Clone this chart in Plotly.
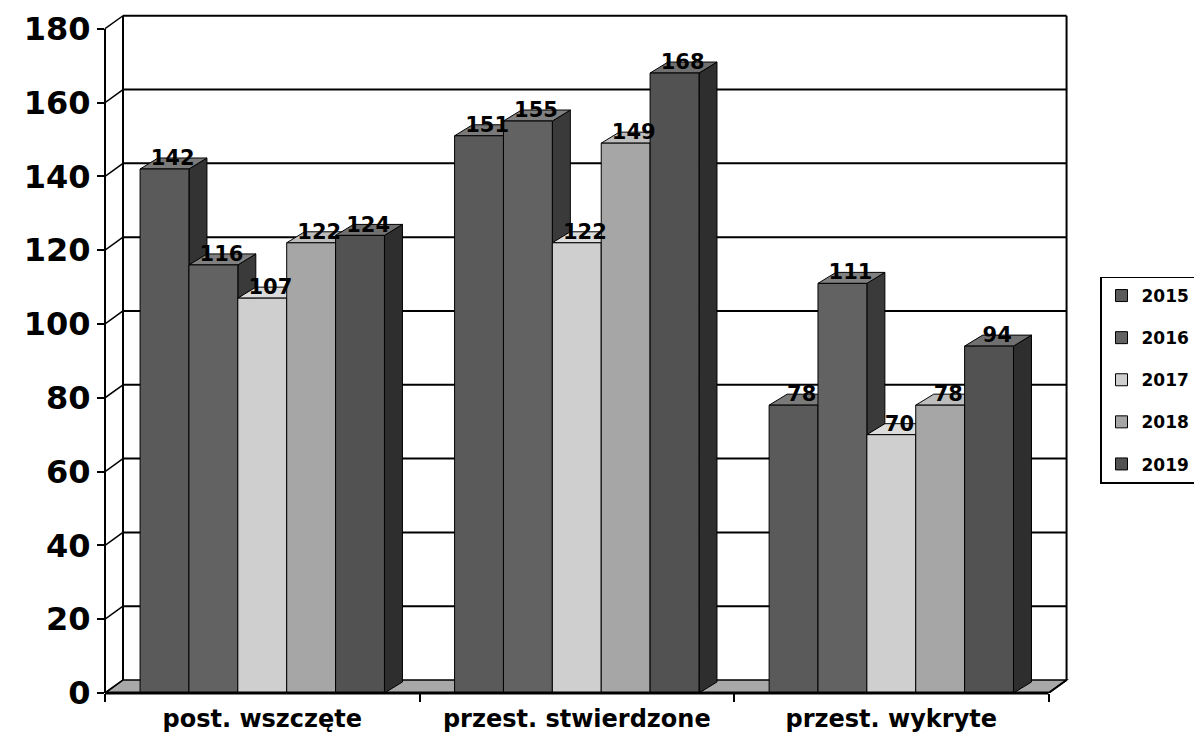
import plotly.graph_objects as go

categories = ["post. wszczęte", "przest. stwierdzone", "przest. wykryte"]
years = ["2015", "2016", "2017", "2018", "2019"]
v2015 = [142, 151, 78]
v2016 = [116, 155, 111]
v2017 = [107, 122, 70]
v2018 = [122, 149, 78]
v2019 = [124, 168, 94]
series = [v2015, v2016, v2017, v2018, v2019]
y_ticks = [0, 20, 40, 60, 80, 100, 120, 140, 160, 180]

front_cols = ["#5a5a5a", "#626262", "#cfcfcf", "#a6a6a6", "#525252"]
side_cols = ["#333333", "#3a3a3a", "#8e8e8e", "#6e6e6e", "#2e2e2e"]
top_cols = ["#7a7a7a", "#808080", "#dcdcdc", "#bdbdbd", "#707070"]

FONT = "DejaVu Sans"
# page body has an 8px margin, so the figure is offset by (8, 8)
OFF = 8
W, H = 1202 - OFF, 743 - OFF
L, R, T, B = 105 - OFF, 133, 14 - OFF, 50
XR = [0, 3.065]
YR = [0, 184]
px_x = (W - L - R) / (XR[1] - XR[0])
px_y = (H - T - B) / (YR[1] - YR[0])

bargap = 0.223
n = len(years)
bw = (1 - bargap) / n
centers = [i + 0.5 for i in range(len(categories))]

# depth (in data units) for walls and bars
dxw, dyw = 18 / px_x, 13 / px_y
dxb, dyb = 18 / px_x, 11 / px_y

fig = go.Figure()
for k, (yr, vals) in enumerate(zip(years, series)):
    fig.add_trace(go.Bar(
        x=centers, y=vals, name=yr, legendgroup=yr,
        marker=dict(color=front_cols[k], line=dict(color="black", width=1)),
        hoverinfo="skip",
    ))

# value labels
for k, vals in enumerate(series):
    xs = [c + (k - (n - 1) / 2) * bw + dxb * 0.45 for c in centers]
    ys = [v + dyb - 0.5 for v in vals]
    fig.add_trace(go.Scatter(
        x=xs, y=ys, mode="text", text=[str(v) for v in vals],
        textposition="middle center", showlegend=False, cliponaxis=False,
        legendgroup=years[k],
        textfont=dict(family=FONT, size=21, color="black", weight="bold"), hoverinfo="skip",
    ))

shapes = []
line_k = dict(color="black", width=2)
# floor
shapes.append(dict(type="path", xref="x", yref="y", layer="between",
                   path=f"M0,0 L{dxw},{dyw} L{3 + dxw},{dyw} L3,0 Z",
                   fillcolor="#a8a8a8", line=dict(color="black", width=1.5)))
# back wall grid lines and left wall diagonals
for t in y_ticks:
    if t > 0:
        shapes.append(dict(type="line", xref="x", yref="y", layer="between",
                           x0=dxw, x1=3 + dxw, y0=t + dyw, y1=t + dyw, line=line_k))
    shapes.append(dict(type="line", xref="x", yref="y", layer="between",
                       x0=0.0, x1=dxw, y0=t, y1=t + dyw, line=dict(color="black", width=1.5)))
# back wall edges
shapes.append(dict(type="line", xref="x", yref="y", layer="between",
                   x0=dxw, x1=dxw, y0=dyw, y1=180 + dyw, line=line_k))
shapes.append(dict(type="line", xref="x", yref="y", layer="between",
                   x0=3 + dxw, x1=3 + dxw, y0=dyw, y1=180 + dyw, line=line_k))
shapes.append(dict(type="line", xref="x", yref="y", layer="between",
                   x0=3, x1=3 + dxw, y0=0, y1=dyw, line=line_k))

# bar side and top faces
for ci, c in enumerate(centers):
    for k, vals in enumerate(series):
        v = vals[ci]
        x0 = c + (k - (n - 1) / 2) * bw - bw / 2
        x1 = x0 + bw
        shapes.append(dict(type="path", xref="x", yref="y", layer="between",
                           path=f"M{x1},0 L{x1 + dxb},{dyb} L{x1 + dxb},{v + dyb} L{x1},{v} Z",
                           fillcolor=side_cols[k], line=dict(color="black", width=1)))
        shapes.append(dict(type="path", xref="x", yref="y", layer="between",
                           path=f"M{x0},{v} L{x0 + dxb},{v + dyb} L{x1 + dxb},{v + dyb} L{x1},{v} Z",
                           fillcolor=top_cols[k], line=dict(color="black", width=1)))

# front axes
shapes.append(dict(type="line", xref="paper", yref="y", x0=0, x1=0, y0=0, y1=180,
                   line=line_k, layer="above"))
shapes.append(dict(type="line", xref="x", yref="paper", x0=0, x1=3, y0=0, y1=0,
                   line=dict(color="black", width=3), layer="above"))

fig.update_layout(
    width=W, height=H,
    margin=dict(l=L, r=R, t=T, b=B, autoexpand=False),
    paper_bgcolor="white", plot_bgcolor="white",
    barmode="group", bargap=bargap, bargroupgap=0,
    shapes=shapes,
    font=dict(family=FONT, color="black"),
    legend=dict(
        xref="container", yref="container",
        x=(1100 - OFF) / W, xanchor="left", y=1 - (380 - OFF) / H, yanchor="middle",
        bordercolor="black", borderwidth=1.5, bgcolor="white",
        font=dict(family=FONT, size=17, color="black", weight="bold"),
        tracegroupgap=17, traceorder="grouped", itemwidth=30,
    ),
    xaxis=dict(
        range=XR, showgrid=False, zeroline=False, showline=False, automargin=False,
        tickmode="array", tickvals=centers, ticktext=categories, ticks="",
        tickfont=dict(family=FONT, size=24, color="black", weight="bold"),
        ticklabelstandoff=9,
        minor=dict(tickmode="array", tickvals=[0, 1, 2, 3], ticks="outside",
                   ticklen=8, tickwidth=2, tickcolor="black", showgrid=False),
    ),
    yaxis=dict(
        range=YR, showgrid=False, zeroline=False, showline=False, automargin=False,
        tickmode="array", tickvals=y_ticks, ticks="outside", ticklen=7,
        tickwidth=2, tickcolor="black",
        tickfont=dict(family=FONT, size=32, color="black", weight="bold"),
    ),
)

fig.write_html("out.html")
